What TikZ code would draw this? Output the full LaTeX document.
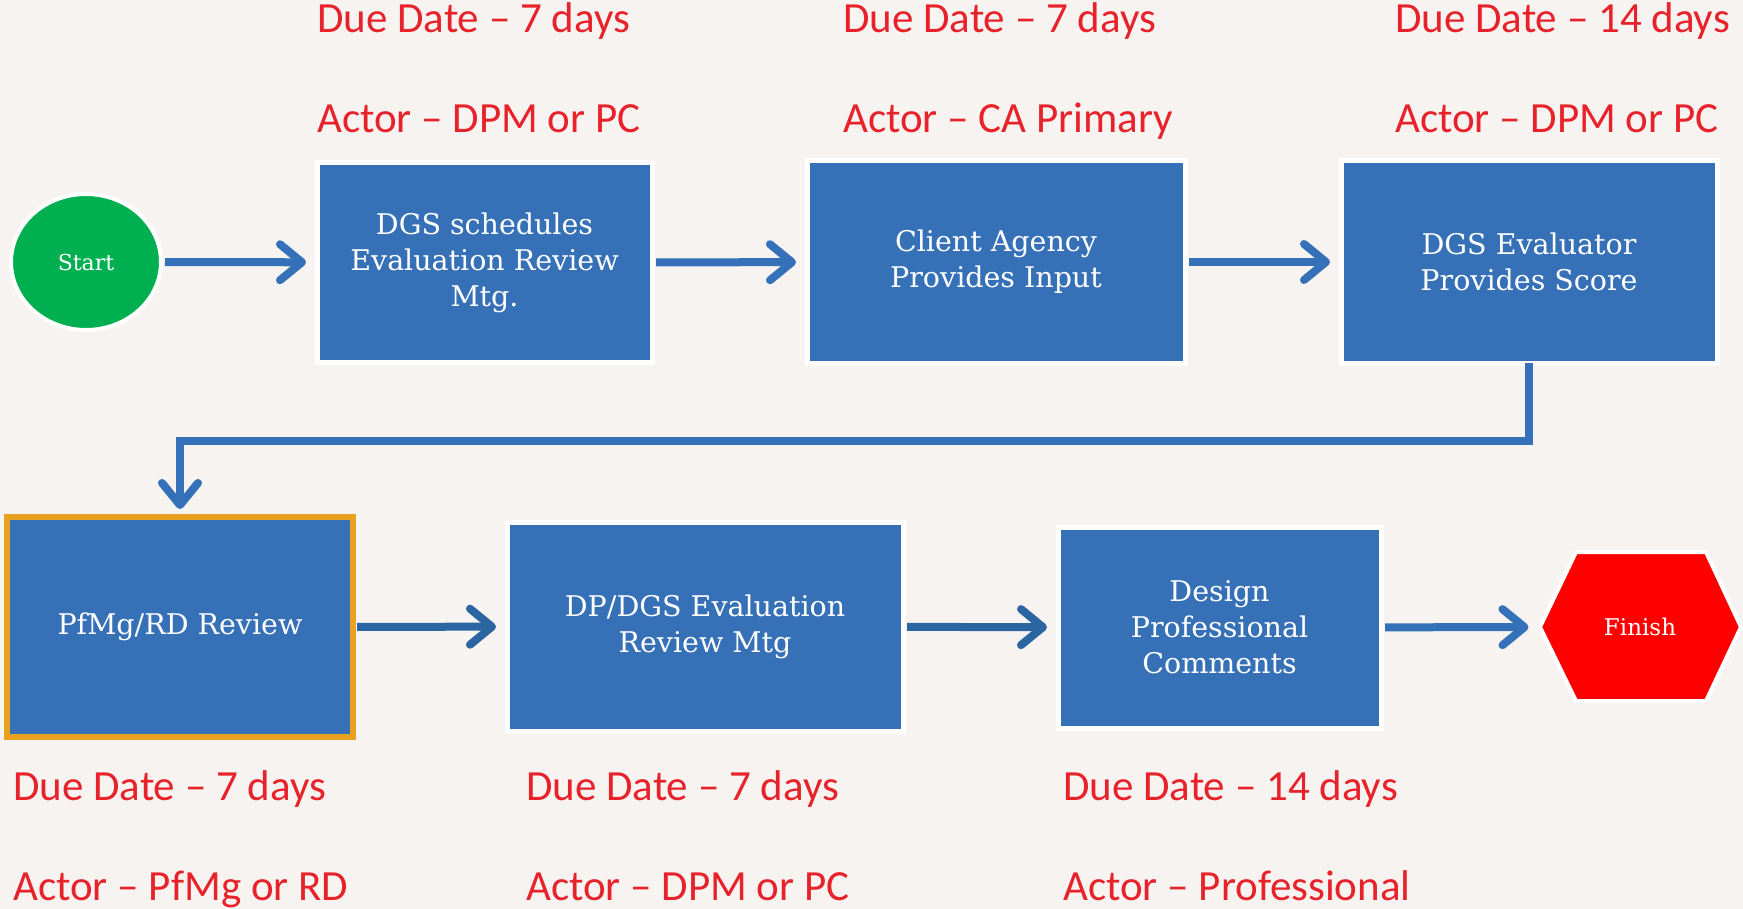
\documentclass[tikz,border=0pt]{standalone}
\usepackage{fontspec}
\setmainfont{DejaVu Serif}
\newfontfamily\calib{Carlito}
\usetikzlibrary{arrows.meta,shapes.geometric,calc}
\definecolor{bg}{HTML}{F7F3F0}
\definecolor{boxblue}{HTML}{3671B8}
\definecolor{arrblue}{HTML}{3571B8}
\definecolor{arrdark}{HTML}{2B66A2}
\definecolor{txtred}{HTML}{E8222B}
\definecolor{startgreen}{HTML}{00B050}
\definecolor{orng}{HTML}{E9A122}
\begin{document}
\begin{tikzpicture}[x=1pt,y=-1pt,
  box/.style={rectangle, fill=boxblue, draw=white, line width=5pt, text=white, align=center,
    font=\fontsize{28.5}{36}\selectfont, inner sep=0pt, outer sep=0pt},
  arr/.style={draw=arrblue, line width=8pt, -{Straight Barb[length=22pt,width=36pt,round]},
    shorten >=11pt, shorten <=4pt},
  lbl/.style={anchor=base west, inner sep=0pt, text=txtred, font=\calib\fontsize{43}{50}\selectfont}]
\fill[bg] (0,0) rectangle (1743,909);
\useasboundingbox (0,0) rectangle (1743,909);

% nodes
\node[ellipse, fill=startgreen, draw=white, line width=4pt, minimum width=150pt, minimum height=136pt,
  inner sep=0pt, outer sep=0pt, text=white, font=\fontsize{22}{26}\selectfont] (start) at (86,262) {Start};
\node[box, minimum width=335pt, minimum height=199pt] (b1) at (484.5,262.5) {DGS schedules\\Evaluation Review\\Mtg.};
\node[box, minimum width=378pt, minimum height=202pt] (b2) at (996,262) {Client Agency\\Provides Input};
\node[box, minimum width=376pt, minimum height=202pt] (b3) at (1529,262) {DGS Evaluator\\Provides Score};
\node[box, draw=orng, line width=6pt, minimum width=346pt, minimum height=220pt] (b4) at (180,627) {PfMg/RD Review};
\node[box, minimum width=396pt, minimum height=209pt] (b5) at (705,626.5) {DP/DGS Evaluation\\Review Mtg};
\node[box, minimum width=323pt, minimum height=201pt] (b6) at (1219.5,627.5) {Design\\Professional\\Comments};
\path[fill=red, draw=white, line width=4pt, line join=round]
  (1540,627) -- (1576,552) -- (1706,552) -- (1741,627) -- (1706,701) -- (1576,701) -- cycle;
\node[inner sep=0pt, outer sep=0pt, minimum width=201pt, minimum height=149pt, text=white,
  font=\fontsize{23}{28}\selectfont] (fin) at (1640,627) {Finish};

% connectors
\draw[arr] (start) -- (b1);
\draw[arr] (b1) -- (b2);
\draw[arr] (b2) -- (b3);
\draw[arr, shorten <=0pt, shorten >=8pt] (b3.south) -- (b3.south |- 0,441) -| (b4.north);
\draw[arr, draw=arrdark] (b4) -- (b5);
\draw[arr, draw=arrdark] (b5) -- (b6);
\draw[arr] (b6) -- (fin);

% labels
\node[lbl] (d1) at (317,33) {Due Date – 7 days};
\node[lbl] (a1) at (317,133) {Actor – DPM or PC};
\node[lbl] (d2) at (843,33) {Due Date – 7 days};
\node[lbl] (a2) at (843,133) {Actor – CA Primary};
\node[lbl] (d3) at (1395,33) {Due Date – 14 days};
\node[lbl] (a3) at (1395,133) {Actor – DPM or PC};
\node[lbl] (d4) at (13,800) {Due Date – 7 days};
\node[lbl] (a4) at (13,900) {Actor – PfMg or RD};
\node[lbl] (d5) at (526,800) {Due Date – 7 days};
\node[lbl] (a5) at (526,900) {Actor – DPM or PC};
\node[lbl] (d6) at (1063,800) {Due Date – 14 days};
\node[lbl] (a6) at (1063,900) {Actor – Professional};
\end{tikzpicture}
\end{document}
